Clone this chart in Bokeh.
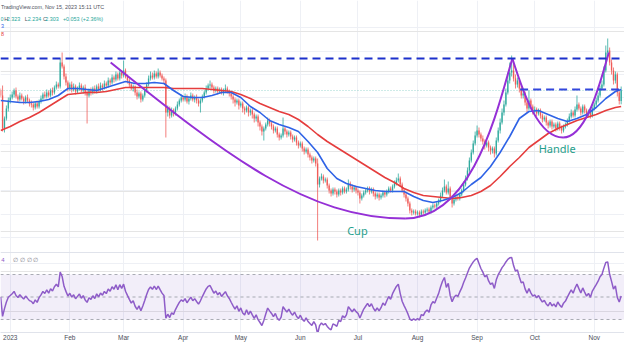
import numpy as np
from bokeh.plotting import figure
from bokeh.models import (Range1d, FixedTicker, Grid, Span, BoxAnnotation,
                          ColumnDataSource)
from bokeh.core.properties import value
from bokeh.embed import file_html
from bokeh.resources import INLINE

# ---------------- data (daily candles, day 0 = 2023-01-01) ----------------
first_day = -5          # 2022-12-27
first_open = 2.303

closes = [
    2.278, 2.113, 2.163, 2.213, 2.253, 2.268, 2.283,
    2.303, 2.273, 2.258, 2.278, 2.263, 2.248, 2.268,
    2.253, 2.238, 2.233, 2.218, 2.238, 2.223, 2.248,
    2.263, 2.283, 2.273, 2.293, 2.278, 2.303, 2.293,
    2.318, 2.333, 2.323, 2.443, 2.423, 2.373, 2.343,
    2.313, 2.333, 2.308, 2.323, 2.298, 2.313, 2.328,
    2.303, 2.318, 2.293, 2.278, 2.303, 2.293, 2.313,
    2.298, 2.323, 2.308, 2.328, 2.318, 2.338, 2.328,
    2.353, 2.343, 2.368, 2.358, 2.383, 2.363, 2.393,
    2.378, 2.403, 2.373, 2.353, 2.333, 2.313, 2.323,
    2.293, 2.273, 2.288, 2.258, 2.278, 2.303, 2.333,
    2.363, 2.378, 2.368, 2.388, 2.373, 2.393, 2.378,
    2.363, 2.353, 2.193, 2.213, 2.178, 2.203, 2.188,
    2.213, 2.233, 2.253, 2.268, 2.258, 2.273, 2.248,
    2.263, 2.278, 2.258, 2.268, 2.253, 2.238, 2.253,
    2.273, 2.293, 2.313, 2.328, 2.333, 2.318, 2.303,
    2.313, 2.298, 2.308, 2.293, 2.303, 2.313, 2.298,
    2.288, 2.273, 2.258, 2.243, 2.253, 2.228, 2.238,
    2.213, 2.203, 2.218, 2.193, 2.203, 2.183, 2.163,
    2.173, 2.143, 2.123, 2.098, 2.113, 2.133, 2.153,
    2.138, 2.123, 2.103, 2.113, 2.083, 2.068, 2.078,
    2.113, 2.098, 2.083, 2.093, 2.073, 2.058, 2.068,
    2.043, 2.028, 2.038, 2.013, 1.998, 2.008, 1.983,
    1.968, 1.953, 1.963, 1.938, 1.833, 1.863, 1.873,
    1.853, 1.858, 1.828, 1.803, 1.788, 1.808, 1.798,
    1.783, 1.803, 1.793, 1.813, 1.798, 1.808, 1.838,
    1.823, 1.808, 1.818, 1.803, 1.793, 1.763, 1.778,
    1.793, 1.803, 1.813, 1.798, 1.808, 1.788, 1.773,
    1.783, 1.768, 1.778, 1.793, 1.783, 1.798, 1.813,
    1.803, 1.823, 1.838, 1.853, 1.863, 1.833, 1.803,
    1.783, 1.763, 1.738, 1.703, 1.693, 1.698, 1.688,
    1.693, 1.683, 1.698, 1.693, 1.703, 1.708, 1.698,
    1.718, 1.728, 1.723, 1.738, 1.753, 1.778, 1.803,
    1.823, 1.793, 1.813, 1.768, 1.738, 1.758, 1.768,
    1.763, 1.783, 1.803, 1.833, 1.863, 1.903, 1.953,
    1.993, 2.038, 2.078, 2.103, 2.083, 2.063, 2.048,
    2.028, 2.043, 2.018, 2.003, 2.013, 1.988, 2.053,
    2.103, 2.143, 2.193, 2.233, 2.293, 2.353, 2.393,
    2.403, 2.363, 2.333, 2.353, 2.313, 2.278, 2.288,
    2.243, 2.213, 2.253, 2.223, 2.198, 2.208, 2.188,
    2.203, 2.178, 2.158, 2.168, 2.143, 2.128, 2.148,
    2.123, 2.133, 2.113, 2.138, 2.118, 2.103, 2.123,
    2.133, 2.153, 2.173, 2.193, 2.178, 2.208, 2.233,
    2.213, 2.193, 2.223, 2.203, 2.183, 2.198, 2.178,
    2.213, 2.233, 2.253, 2.278, 2.313, 2.333, 2.403,
    2.493, 2.503, 2.443, 2.403, 2.353, 2.383, 2.293,
    2.250, 2.303,
]

highs = [
    2.313, 2.328, 2.173, 2.228, 2.268, 2.283, 2.298,
    2.313, 2.318, 2.283, 2.293, 2.288, 2.273, 2.278,
    2.283, 2.263, 2.253, 2.243, 2.248, 2.253, 2.258,
    2.278, 2.293, 2.298, 2.308, 2.303, 2.313, 2.318,
    2.328, 2.348, 2.343, 2.463, 2.493, 2.433, 2.388,
    2.353, 2.343, 2.348, 2.338, 2.333, 2.323, 2.343,
    2.338, 2.328, 2.333, 2.303, 2.313, 2.318, 2.323,
    2.328, 2.333, 2.338, 2.343, 2.338, 2.353, 2.348,
    2.368, 2.363, 2.383, 2.378, 2.398, 2.393, 2.408,
    2.403, 2.453, 2.413, 2.383, 2.363, 2.343, 2.333,
    2.328, 2.308, 2.298, 2.298, 2.288, 2.313, 2.343,
    2.378, 2.398, 2.393, 2.403, 2.398, 2.413, 2.403,
    2.388, 2.373, 2.363, 2.228, 2.223, 2.218, 2.213,
    2.223, 2.248, 2.263, 2.283, 2.278, 2.288, 2.283,
    2.273, 2.293, 2.288, 2.278, 2.283, 2.263, 2.263,
    2.283, 2.303, 2.328, 2.338, 2.353, 2.343, 2.328,
    2.323, 2.323, 2.318, 2.318, 2.313, 2.333, 2.323,
    2.308, 2.298, 2.283, 2.268, 2.263, 2.263, 2.248,
    2.248, 2.223, 2.228, 2.228, 2.213, 2.213, 2.193,
    2.183, 2.183, 2.153, 2.133, 2.123, 2.143, 2.168,
    2.163, 2.148, 2.133, 2.123, 2.123, 2.093, 2.088,
    2.168, 2.123, 2.108, 2.103, 2.103, 2.083, 2.078,
    2.078, 2.053, 2.048, 2.048, 2.023, 2.018, 2.018,
    1.993, 1.978, 1.973, 1.973, 1.963, 1.873, 1.888,
    1.883, 1.868, 1.868, 1.838, 1.813, 1.818, 1.818,
    1.808, 1.813, 1.813, 1.823, 1.823, 1.818, 1.858,
    1.848, 1.833, 1.828, 1.828, 1.813, 1.803, 1.788,
    1.803, 1.813, 1.823, 1.823, 1.818, 1.818, 1.798,
    1.793, 1.793, 1.788, 1.803, 1.803, 1.808, 1.823,
    1.823, 1.833, 1.853, 1.868, 1.888, 1.873, 1.843,
    1.813, 1.793, 1.773, 1.748, 1.713, 1.708, 1.708,
    1.703, 1.703, 1.708, 1.708, 1.713, 1.718, 1.718,
    1.728, 1.738, 1.738, 1.748, 1.763, 1.793, 1.818,
    1.858, 1.833, 1.848, 1.823, 1.778, 1.768, 1.778,
    1.783, 1.793, 1.813, 1.848, 1.878, 1.918, 1.968,
    2.008, 2.053, 2.098, 2.128, 2.118, 2.093, 2.078,
    2.058, 2.053, 2.053, 2.028, 2.023, 2.023, 2.068,
    2.118, 2.163, 2.213, 2.253, 2.313, 2.393, 2.443,
    2.478, 2.443, 2.383, 2.368, 2.363, 2.328, 2.303,
    2.298, 2.253, 2.303, 2.263, 2.233, 2.223, 2.218,
    2.213, 2.213, 2.188, 2.178, 2.178, 2.153, 2.158,
    2.158, 2.143, 2.143, 2.148, 2.148, 2.128, 2.133,
    2.143, 2.163, 2.188, 2.208, 2.203, 2.223, 2.278,
    2.243, 2.223, 2.233, 2.233, 2.213, 2.208, 2.208,
    2.223, 2.243, 2.268, 2.293, 2.328, 2.353, 2.423,
    2.528, 2.563, 2.518, 2.458, 2.418, 2.398, 2.393,
    2.308, 2.323,
]

lows = [
    2.268, 2.098, 2.093, 2.153, 2.198, 2.238, 2.258,
    2.268, 2.263, 2.243, 2.248, 2.253, 2.233, 2.238,
    2.243, 2.223, 2.218, 2.203, 2.208, 2.213, 2.213,
    2.238, 2.253, 2.263, 2.263, 2.268, 2.268, 2.278,
    2.283, 2.308, 2.313, 2.313, 2.413, 2.358, 2.328,
    2.298, 2.303, 2.293, 2.298, 2.283, 2.288, 2.303,
    2.293, 2.288, 2.278, 2.138, 2.268, 2.278, 2.283,
    2.288, 2.288, 2.298, 2.298, 2.303, 2.308, 2.313,
    2.318, 2.328, 2.333, 2.343, 2.348, 2.353, 2.353,
    2.363, 2.368, 2.363, 2.338, 2.318, 2.303, 2.298,
    2.278, 2.258, 2.263, 2.243, 2.248, 2.268, 2.293,
    2.323, 2.353, 2.358, 2.358, 2.363, 2.363, 2.368,
    2.353, 2.338, 2.068, 2.173, 2.163, 2.168, 2.173,
    2.178, 2.203, 2.223, 2.243, 2.248, 2.248, 2.238,
    2.233, 2.253, 2.248, 2.243, 2.238, 2.223, 2.193,
    2.243, 2.263, 2.283, 2.303, 2.313, 2.308, 2.288,
    2.293, 2.283, 2.288, 2.283, 2.278, 2.293, 2.288,
    2.273, 2.258, 2.238, 2.223, 2.233, 2.208, 2.218,
    2.193, 2.183, 2.193, 2.173, 2.178, 2.163, 2.143,
    2.148, 2.123, 2.103, 2.078, 2.053, 2.103, 2.123,
    2.123, 2.108, 2.088, 2.093, 2.068, 2.053, 2.058,
    2.068, 2.083, 2.068, 2.073, 2.058, 2.043, 2.048,
    2.028, 2.013, 2.018, 1.998, 1.983, 1.988, 1.968,
    1.953, 1.938, 1.943, 1.923, 1.553, 1.818, 1.853,
    1.838, 1.843, 1.813, 1.788, 1.773, 1.778, 1.783,
    1.768, 1.773, 1.778, 1.783, 1.788, 1.788, 1.798,
    1.808, 1.793, 1.798, 1.788, 1.778, 1.738, 1.753,
    1.768, 1.783, 1.793, 1.783, 1.788, 1.773, 1.758,
    1.763, 1.753, 1.758, 1.768, 1.768, 1.773, 1.788,
    1.793, 1.793, 1.813, 1.828, 1.843, 1.823, 1.793,
    1.768, 1.748, 1.723, 1.688, 1.678, 1.683, 1.678,
    1.678, 1.668, 1.673, 1.683, 1.683, 1.693, 1.688,
    1.688, 1.708, 1.713, 1.713, 1.728, 1.743, 1.768,
    1.793, 1.783, 1.783, 1.758, 1.718, 1.728, 1.748,
    1.753, 1.753, 1.773, 1.793, 1.823, 1.853, 1.893,
    1.943, 1.983, 2.028, 2.068, 2.068, 2.048, 2.033,
    2.008, 2.018, 1.998, 1.983, 1.988, 1.968, 1.978,
    2.043, 2.088, 2.133, 2.178, 2.223, 2.283, 2.338,
    2.373, 2.348, 2.313, 2.318, 2.293, 2.263, 2.263,
    2.228, 2.193, 2.203, 2.208, 2.183, 2.188, 2.173,
    2.178, 2.163, 2.143, 2.148, 2.128, 2.113, 2.118,
    2.108, 2.113, 2.098, 2.103, 2.103, 2.088, 2.093,
    2.113, 2.123, 2.143, 2.163, 2.168, 2.168, 2.198,
    2.203, 2.178, 2.183, 2.188, 2.168, 2.173, 2.163,
    2.168, 2.203, 2.223, 2.243, 2.268, 2.303, 2.323,
    2.393, 2.473, 2.428, 2.383, 2.333, 2.338, 2.273,
    2.233, 2.234,
]

# moving averages every 5 days
ma_days = list(range(-5, 316, 5)) + [318]
ma20 = [
    2.253, 2.248, 2.243, 2.243, 2.248, 2.258, 2.278,
    2.313, 2.313, 2.308, 2.303, 2.318, 2.333, 2.348,
    2.338, 2.338, 2.343, 2.338, 2.303, 2.273, 2.268,
    2.268, 2.278, 2.293, 2.293, 2.268, 2.223, 2.193,
    2.153, 2.133, 2.118, 2.098, 2.048, 1.993, 1.913,
    1.863, 1.838, 1.823, 1.813, 1.803, 1.798, 1.798,
    1.798, 1.773, 1.753, 1.743, 1.753, 1.768, 1.793,
    1.833, 1.868, 1.923, 1.993, 2.073, 2.163, 2.198,
    2.203, 2.183, 2.163, 2.148, 2.163, 2.183, 2.218,
    2.263, 2.298, 2.308,
]
ma50 = [
    2.103, 2.123, 2.148, 2.168, 2.193, 2.223, 2.253,
    2.283, 2.288, 2.293, 2.293, 2.298, 2.308, 2.318,
    2.318, 2.318, 2.318, 2.318, 2.313, 2.313, 2.313,
    2.313, 2.308, 2.303, 2.298, 2.283, 2.263, 2.238,
    2.218, 2.198, 2.183, 2.158, 2.123, 2.083, 2.048,
    2.018, 1.988, 1.958, 1.928, 1.898, 1.868, 1.843,
    1.813, 1.793, 1.778, 1.773, 1.768, 1.763, 1.768,
    1.778, 1.798, 1.828, 1.873, 1.923, 1.968, 2.018,
    2.053, 2.088, 2.113, 2.133, 2.153, 2.168, 2.183,
    2.203, 2.218, 2.223,
]

tick_days = [0, 31, 59, 90, 120, 151, 181, 212, 243, 273, 304]
tick_labels = ["2023", "Feb", "Mar", "Apr", "May", "Jun", "Jul", "Aug",
               "Sep", "Oct", "Nov"]
grid_prices = [1.568, 1.685, 1.801, 1.918, 2.034, 2.151, 2.267, 2.384,
               2.500, 2.617]

# drawings
top_resistance = 2.463
handle_resistance = 2.308
handle_line_start = 265.4
last_price = 2.303
cup_x = [52.27, 113.17, 154.79, 205.54, 241.07, 253.76, 261.37]
cup_y = [2.443, 1.973, 1.663, 1.663, 1.663, 2.2155, 2.463]
handle_x = [261.37, 267.46, 275.07, 287.76, 300.45, 307.55, 311.61]
handle_y = [2.463, 2.278, 2.068, 2.068, 2.068, 2.363, 2.493]
cup_label = (180.7, 1.603)
handle_label = (284.7, 2.013)

# ---------------- derived ----------------
n = len(closes)
days = np.arange(first_day, first_day + n)
c = np.array(closes)
o = np.array([first_open] + closes[:-1])
up = c >= o
col = np.where(up, "#26a69a", "#ef5350")
src = ColumnDataSource(dict(x=days, h=highs, l=lows,
                            top=np.maximum(o, c), bot=np.minimum(o, c),
                            color=col))


def wilder_rsi(vals, start, period=14, g0=0.013, l0=0.011):
    ag, al, prev, out = g0, l0, start, []
    for v in vals:
        ch = v - prev
        ag = (ag * (period - 1) + max(ch, 0.0)) / period
        al = (al * (period - 1) + max(-ch, 0.0)) / period
        out.append(100.0 - 100.0 / (1.0 + ag / al))
        prev = v
    return out


rsi = wilder_rsi(closes, first_open)

# ---------------- figure ----------------
p = figure(width=624, height=344, output_backend="svg", toolbar_location=None,
           x_range=Range1d(-5.075, 319.74), y_range=Range1d(1.093, 2.753),
           y_axis_location=None, min_border_left=0, min_border_right=0,
           min_border_top=0, min_border_bottom=12,
           outline_line_color=None, background_fill_color="white",
           border_fill_color="white")
p.extra_y_ranges = {"rsi": Range1d(18.44, 313.6)}

ax = p.xaxis[0]
ax.ticker = FixedTicker(ticks=tick_days)
ax.major_label_overrides = {d: t for d, t in zip(tick_days, tick_labels)}
ax.major_tick_line_color = None
ax.minor_tick_line_color = None
ax.major_tick_out = 0
ax.major_tick_in = 0
ax.major_label_standoff = 1
ax.major_label_text_font = "Liberation Sans"
ax.major_label_text_font_size = "6.5px"
ax.major_label_text_color = "#4a4e59"
ax.axis_line_color = "#e0e3eb"
p.xgrid.grid_line_color = "#eef0f5"
p.add_layout(Grid(dimension=1, ticker=FixedTicker(ticks=grid_prices),
                  grid_line_color="#eef0f5"))

# RSI pane
p.add_layout(BoxAnnotation(bottom=30, top=70, y_range_name="rsi",
                           fill_color="#7e57c2", fill_alpha=0.1,
                           line_color=None, level="underlay"))
for lvl in (70, 50, 30):
    p.add_layout(Span(location=lvl, dimension="width", y_range_name="rsi",
                      line_color="#9598a1", line_dash="3 3", line_width=1,
                      line_alpha=0.8, level="underlay"))
p.add_layout(Span(location=89.56, dimension="width", y_range_name="rsi",
                  line_color="#e0e3eb", line_width=1, level="underlay"))
p.add_layout(Span(location=79.8, dimension="width", y_range_name="rsi",
                  line_color="#eef0f5", line_width=1, level="underlay"))
p.line(days, rsi, y_range_name="rsi", line_color="#8e5cc8", line_width=1.5)
p.text(x=[-4.7, 1.52], y=[83.3, 83.3], text=["4", "∅ ∅ ∅ ∅"],
       y_range_name="rsi", text_font=value("Liberation Sans"),
       text_font_size="6px", text_color=["#8e5cc8", "#787b86"],
       text_baseline="middle", text_align="left")

# last price line
p.add_layout(Span(location=last_price, dimension="width",
                  line_color="#26a69a", line_alpha=0.45, line_dash="1 2",
                  line_width=1, level="underlay"))

# candles
p.segment(x0="x", y0="h", x1="x", y1="l", line_color="color", line_width=1,
          line_alpha=0.75, source=src)
p.vbar(x="x", width=0.72, top="top", bottom="bot", fill_color="color",
       line_color=None, fill_alpha=0.85, source=src)

# moving averages
p.line(ma_days, ma50, line_color="#e53d3d", line_width=1.6)
p.line(ma_days, ma20, line_color="#2f63e6", line_width=1.6)

# cup & handle curves
for xs, ys in ((cup_x, cup_y), (handle_x, handle_y)):
    p.bezier(x0=[xs[0], xs[3]], y0=[ys[0], ys[3]],
             x1=[xs[3], xs[6]], y1=[ys[3], ys[6]],
             cx0=[xs[1], xs[4]], cy0=[ys[1], ys[4]],
             cx1=[xs[2], xs[5]], cy1=[ys[2], ys[5]],
             line_color="#9530d6", line_width=2)

# resistance lines
p.add_layout(Span(location=top_resistance, dimension="width",
                  line_color="#1c30cc", line_dash="8 5", line_width=2))
p.segment(x0=[handle_line_start], y0=[handle_resistance], x1=[330],
          y1=[handle_resistance], line_color="#3347dc", line_dash="8 5",
          line_width=2)

# labels
p.text(x=[cup_label[0], handle_label[0]], y=[cup_label[1], handle_label[1]],
       text=["Cup", "Handle"], text_font=value("Noto Sans"),
       text_font_size="11px", text_color="#1f9e8c",
       text_align="center", text_baseline="middle")

# header (legend texts)
hdr = ColumnDataSource(dict(
    x=[-4.85, -5.07, -3.1, -1.83, 7.61, 9.14, 17.0, 18.27, 27.41,
       -4.85, -4.85],
    y=[2.722, 2.663, 2.663, 2.663, 2.663, 2.663, 2.663, 2.663, 2.663,
       2.628, 2.588],
    t=["TradingView.com, Nov 15, 2023 15:11 UTC", "0", "H", "2.323", "L",
       "2.234", "C", "2.303", "+0.053 (+2.36%)", "3", "8"],
    c=["#50535e", "#26a69a", "#50535e", "#26a69a", "#50535e", "#26a69a",
       "#50535e", "#26a69a", "#26a69a", "#2f63e6", "#e53d3d"]))
p.text(x="x", y="y", text="t", text_color="c", source=hdr,
       text_font=value("Liberation Sans"), text_font_size="5.4px",
       text_align="left", text_baseline="middle")

open("out.html", "w").write(file_html(p, INLINE))
